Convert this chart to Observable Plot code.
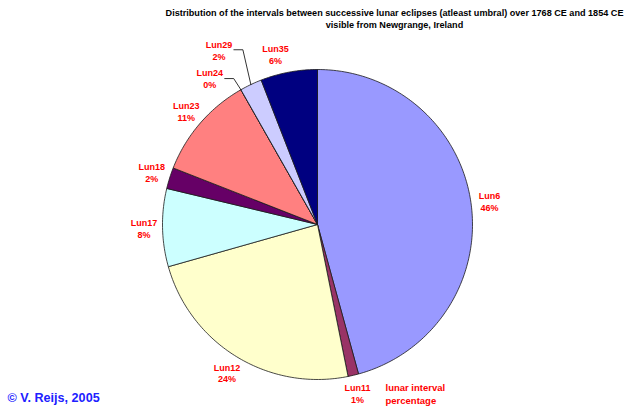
<!DOCTYPE html>
<html>
<head>
<meta charset="utf-8">
<script src="https://cdn.jsdelivr.net/npm/d3@7"></script>
<script src="https://cdn.jsdelivr.net/npm/@observablehq/plot@0.6"></script>
<style>
  html, body { margin: 0; padding: 0; background: #fff; }
  #chart svg { display: block; }
</style>
</head>
<body>
<div id="chart"></div>
<script>
// ---- data ----
const names = ["Lun6", "Lun11", "Lun12", "Lun17", "Lun18", "Lun23", "Lun24", "Lun29", "Lun35"];
const percents = [45.6, 1.1, 23.7, 8.1, 2.2, 10.8, 0, 2.3, 5.9];
const colors = ["#9999FF", "#993366", "#FFFFCC", "#CCFFFF", "#660066", "#FF8080", "#0066CC", "#CCCCFF", "#000080"];
const titleText = "Distribution of the intervals between successive lunar eclipses (atleast umbral) over 1768 CE and 1854 CE\nvisible from Newgrange, Ireland";
const seriesName = "lunar interval\npercentage";
const credit = "\u00A9 V. Reijs, 2005";

// ---- layout (not data) ----
const W = 640, H = 414;
const mL = 162, mR = 168, mT = 69, mB = 35;
const RPX = (W - mL - mR) / 2;             // pixel radius of the pie
const labelRadius = 1.12;
const labelNudgePx = {Lun24: [-22, 5], Lun29: [-24, -18], Lun35: [-10, 0]};
const leaderNames = ["Lun24", "Lun29"];
const font = "'Liberation Sans', Arial, Helvetica, sans-serif";

// ---- geometry through d3.pie ----
const arcs = d3.pie().sort(null).value(d => d.v)(names.map((n, i) => ({n, v: percents[i]})));
const polys = [];
arcs.forEach(a => {
  const n = a.data.n;
  polys.push({n, x: 0, y: 0});
  const steps = Math.max(1, Math.ceil((a.endAngle - a.startAngle) / (Math.PI / 180)));
  for (let k = 0; k <= steps; k++) {
    const t = a.startAngle + (a.endAngle - a.startAngle) * k / steps;
    polys.push({n, x: Math.sin(t), y: Math.cos(t)});
  }
  polys.push({n, x: 0, y: 0});
});

const labels = arcs.map(a => {
  const n = a.data.n;
  const m = (a.startAngle + a.endAngle) / 2;
  const nudge = labelNudgePx[n] || [0, 0];
  return {
    n,
    mid: m,
    x: labelRadius * Math.sin(m) + nudge[0] / RPX,
    y: labelRadius * Math.cos(m) - nudge[1] / RPX,
    text: n + "\n" + Math.round(a.data.v) + "%"
  };
});

const leaders = [];
labels.filter(l => leaderNames.includes(l.n)).forEach(l => {
  leaders.push({n: l.n, x: l.x + 15 / RPX, y: l.y});
  leaders.push({n: l.n, x: l.x + 24 / RPX, y: l.y});
  leaders.push({n: l.n, x: Math.sin(l.mid), y: Math.cos(l.mid)});
});

const plot = Plot.plot({
  width: W,
  height: H,
  marginLeft: mL,
  marginRight: mR,
  marginTop: mT,
  marginBottom: mB,
  x: {domain: [-1, 1], axis: null},
  y: {domain: [-1, 1], axis: null},
  color: {domain: names, range: colors},
  style: {fontFamily: font, background: "#fff", overflow: "visible"},
  marks: [
    Plot.line(polys, {x: "x", y: "y", z: "n", fill: "n", stroke: "#1a1a1a", strokeWidth: 0.8, curve: "linear"}),
    Plot.line(leaders, {x: "x", y: "y", z: "n", stroke: "#000", strokeWidth: 0.8}),
    Plot.text(labels, {x: "x", y: "y", text: "text", fill: "#FF0000", fontWeight: "bold", fontSize: 9, lineHeight: 1.33, textAnchor: "middle", lineAnchor: "middle"}),
    Plot.text([titleText], {frameAnchor: "top", dx: 77, dy: -51, text: d => d, fill: "#000", fontWeight: "bold", fontSize: 9.1, lineHeight: 1.3, textAnchor: "middle", lineAnchor: "middle"}),
    Plot.text([seriesName], {frameAnchor: "bottom", dx: 68, dy: 14, text: d => d, fill: "#FF0000", fontWeight: "bold", fontSize: 9.5, lineHeight: 1.4, textAnchor: "start", lineAnchor: "middle"}),
    Plot.text([credit], {frameAnchor: "bottom-left", dx: -155, dy: 18, text: d => d, fill: "#2020FF", fontWeight: "bold", fontSize: 12.6, textAnchor: "start", lineAnchor: "middle"})
  ]
});
document.getElementById("chart").appendChild(plot);
</script>
</body>
</html>
